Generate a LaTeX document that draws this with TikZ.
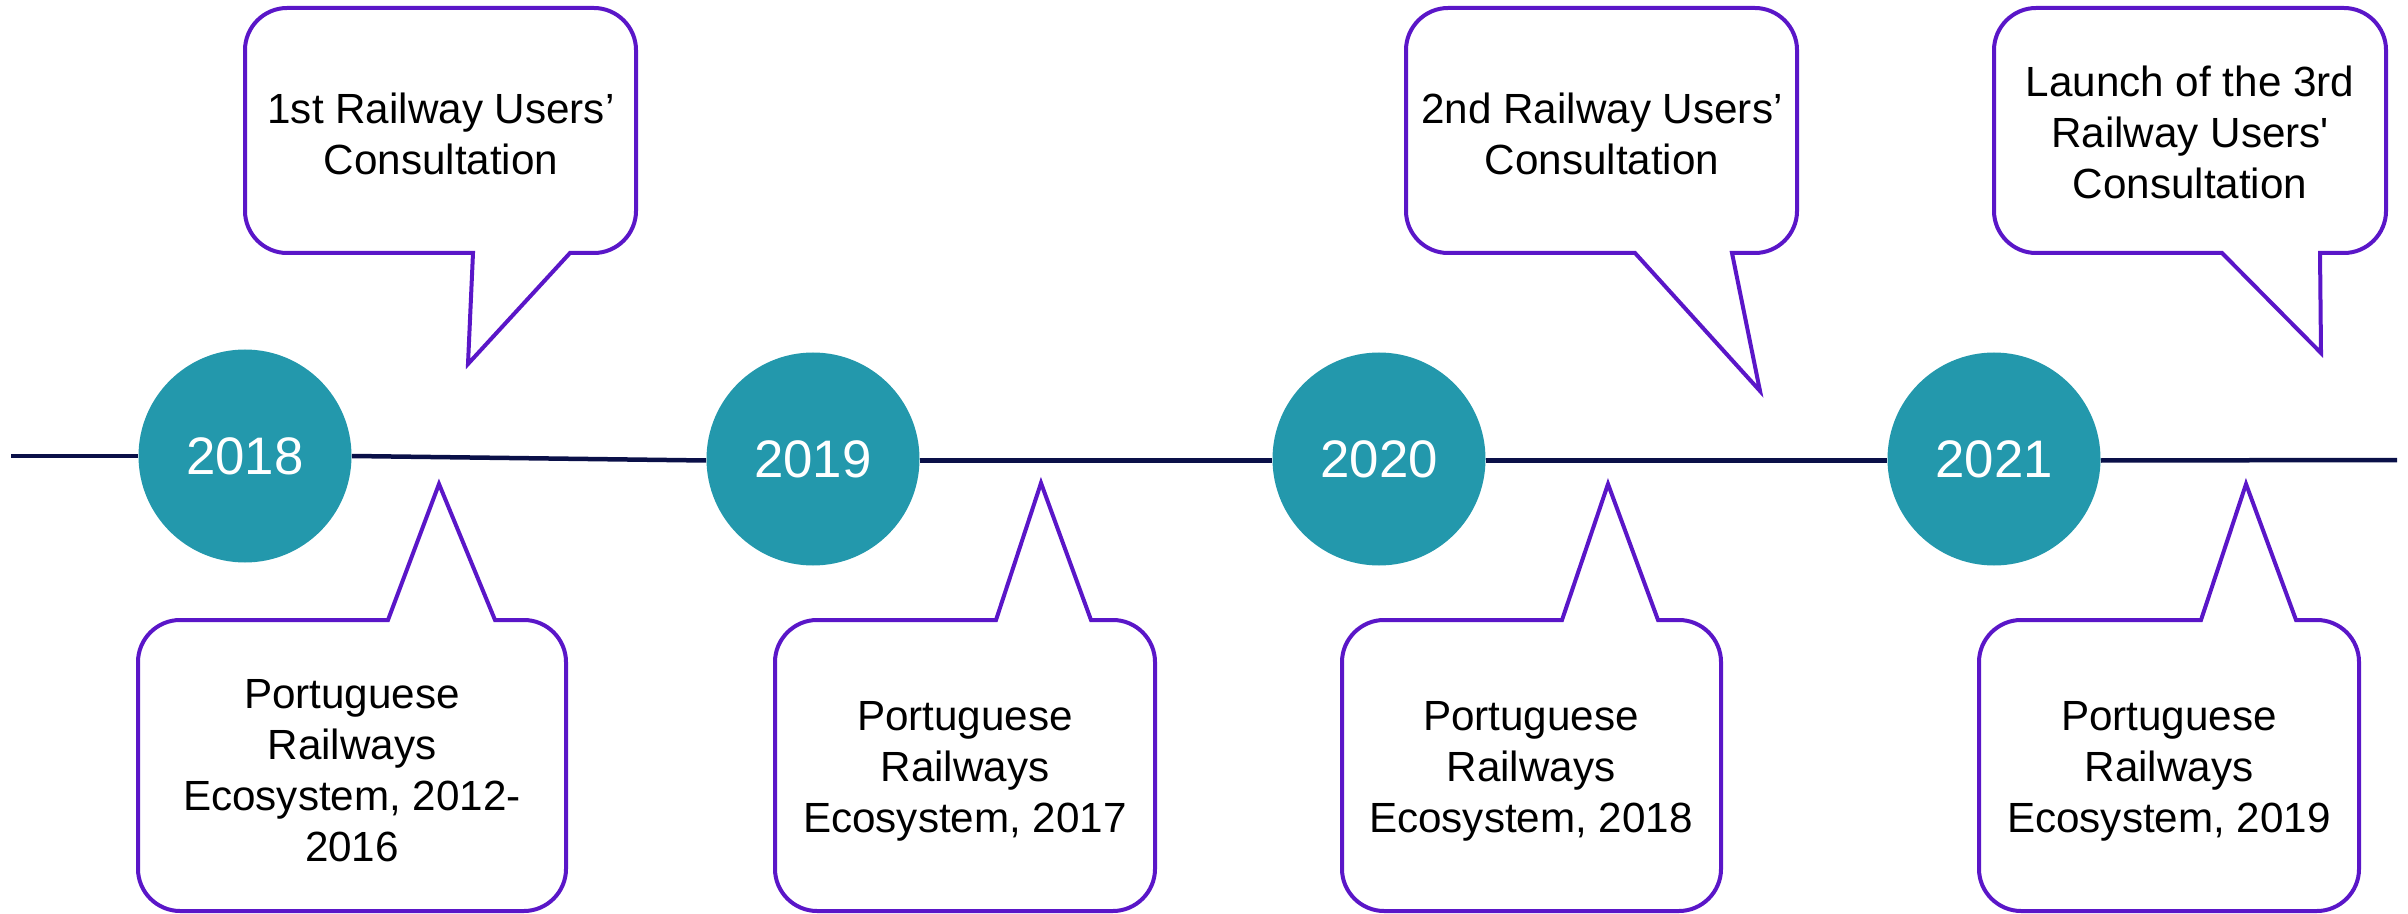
\documentclass[tikz,border=0pt]{standalone}
\usepackage{fontspec}
\setmainfont{Liberation Sans}[Ligatures=TeXOff]
\definecolor{tealc}{HTML}{2398AC}
\definecolor{purplec}{HTML}{5A16C8}
\definecolor{navyc}{HTML}{0A1048}
\newcommand\topcallout[8]{%
  \draw[callout] ({#1+42},#2) -- ({#3-42},#2)
    .. controls ({#3-19},#2) and (#3,{#2+19}) .. (#3,{#2+42})
    -- (#3,{#4-42})
    .. controls (#3,{#4-19}) and ({#3-19},#4) .. ({#3-42},#4)
    -- (#6,#4) -- (#7,#8) -- (#5,#4)
    -- ({#1+42},#4)
    .. controls ({#1+19},#4) and (#1,{#4-19}) .. (#1,{#4-42})
    -- (#1,{#2+42})
    .. controls (#1,{#2+19}) and ({#1+19},#2) .. ({#1+42},#2) -- cycle;}
\newcommand\botcallout[8]{%
  \draw[callout] ({#1+42},#2) -- (#5,#2) -- (#7,#8) -- (#6,#2)
    -- ({#3-42},#2)
    .. controls ({#3-19},#2) and (#3,{#2+19}) .. (#3,{#2+42})
    -- (#3,{#4-42})
    .. controls (#3,{#4-19}) and ({#3-19},#4) .. ({#3-42},#4)
    -- ({#1+42},#4)
    .. controls ({#1+19},#4) and (#1,{#4-19}) .. (#1,{#4-42})
    -- (#1,{#2+42})
    .. controls (#1,{#2+19}) and ({#1+19},#2) .. ({#1+42},#2) -- cycle;}
\begin{document}
\begin{tikzpicture}[x=0.5pt,y=-0.5pt,
  callout/.style={draw=purplec,line width=2pt,fill=white,line join=miter},
  yearc/.style={circle,fill=tealc,minimum size=106.5pt,inner sep=0pt,text=white,
    font=\fontsize{26.4}{30}\selectfont},
  label/.style={align=center,text=black,inner sep=0pt,
    font=\fontsize{21.1}{25.5}\selectfont},
  tline/.style={draw=navyc,line width=2.25pt}]
\useasboundingbox (0,0) rectangle (2408,914);
% callouts
\topcallout{245}{8}{636}{253}{473}{570}{468}{364}
\topcallout{1406}{8}{1797}{253}{1635}{1732}{1760}{391}
\topcallout{1994}{8}{2386}{253}{2222}{2320}{2321}{353}
\botcallout{138}{620}{566}{911}{388}{495}{439}{484}
\botcallout{775}{620}{1155}{911}{996}{1091}{1041}{483}
\botcallout{1342}{620}{1721}{911}{1562}{1658}{1608}{484}
\botcallout{1979}{620}{2359}{911}{2201}{2296}{2246}{484}
% texts
\node[label] (t1) at (441,134) {1st Railway Users’\\Consultation};
\node[label] (t2) at (1602,134) {2nd Railway Users’\\Consultation};
\node[label] (t3) at (2190,132) {Launch of the 3rd\\Railway Users'\\Consultation};
\node[label] (b1) at (352,771) {Portuguese\\Railways\\Ecosystem, 2012-\\2016};
\node[label] (b2) at (965,771) {Portuguese\\Railways\\Ecosystem, 2017};
\node[label] (b3) at (1531,771) {Portuguese\\Railways\\Ecosystem, 2018};
\node[label] (b4) at (2169,771) {Portuguese\\Railways\\Ecosystem, 2019};
% timeline
\node[yearc] (y2018) at (245,456) {2018};
\node[yearc] (y2019) at (813,459) {2019};
\node[yearc] (y2020) at (1379,459) {2020};
\node[yearc] (y2021) at (1994,459) {2021};
\coordinate (lstart) at (11,456);
\coordinate (lend) at (2397,460);
\draw[tline] (lstart) -- (y2018.west);
\draw[tline] (y2018.east) -- ([yshift=-0.75pt]y2019.west);
\draw[tline] ([yshift=-0.75pt]y2019.east) -- ([yshift=-0.75pt]y2020.west);
\draw[tline] ([yshift=-0.75pt]y2020.east) -- ([yshift=-0.75pt]y2021.west);
\draw[tline] ([yshift=-0.75pt]y2021.east) -- (lend);
\end{tikzpicture}
\end{document}
